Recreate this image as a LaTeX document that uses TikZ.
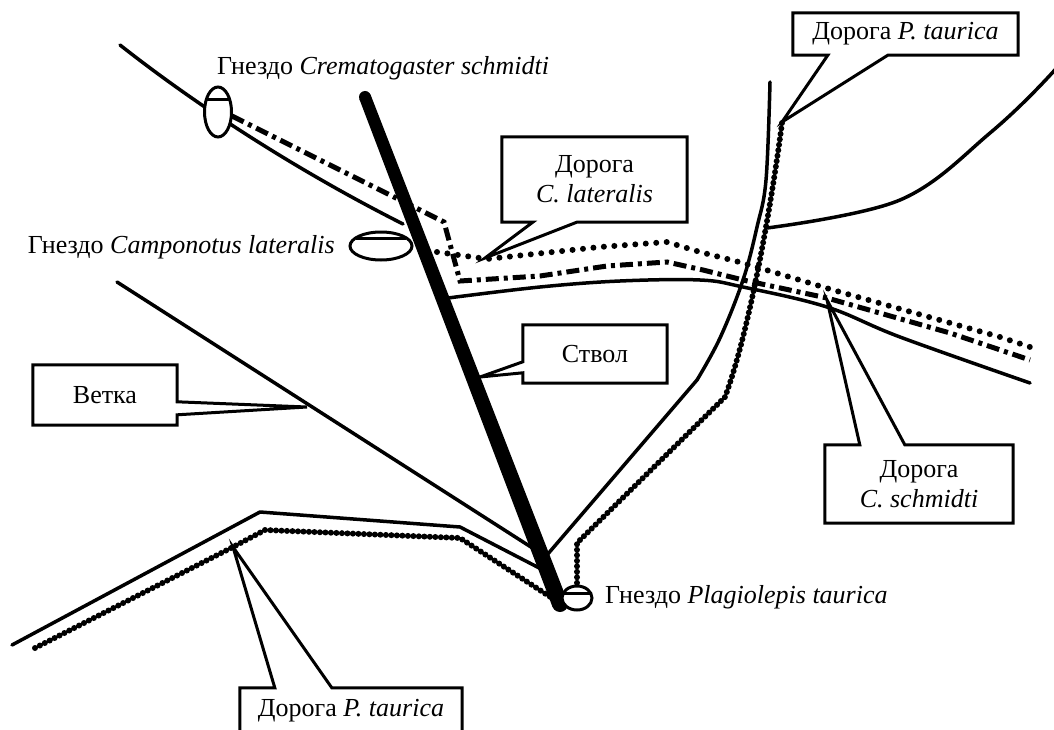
\documentclass[tikz,border=0pt]{standalone}
\usepackage{fontspec}
\setmainfont{Liberation Serif}
\usetikzlibrary{calc,shapes.geometric}
\pgfdeclarelayer{cb}
\pgfdeclarelayer{ct}
\pgfsetlayers{main,cb,ct}
\tikzset{
  branch/.style={line width=3.5pt, line cap=round, line join=round},
  schroad/.style={line width=5pt, dash pattern=on 13pt off 5pt on 4pt off 5pt},
  latroad/.style={line width=6pt, line cap=round, dash pattern=on 0pt off 10.5pt},
  taurroad/.style={line width=2pt, line join=round,
    postaction={draw, line width=6pt, line cap=round, dash pattern=on 0pt off 5.5pt}},
  nest/.style={ellipse, draw, line width=3pt, fill=white, inner sep=0pt},
  callout/.style={draw, line width=3pt, fill=white, line join=miter},
  lbl/.style={font=\fontsize{26}{30}\selectfont, inner sep=0pt},
  boxn/.style={lbl, align=center},
}
\begin{document}
\begin{tikzpicture}[x=1pt,y=-1pt]
\useasboundingbox (0,0) rectangle (1054,730);
\clip (0,0) rectangle (1054,730);
\fill[white] (0,0) rectangle (1054,730);

% branches
\draw[branch] (120,45) .. controls (200,108) and (300,172) .. (403,224);
\draw[branch] (117,282) -- (545,556);
\draw[branch] (12,645) -- (260,512) -- (460,527) -- (547,572);
\draw[branch] plot[smooth, tension=0.6] coordinates {(448,298) (540,287) (620,281) (700,280) (743,287) (827,307) (900,337) (1030,383)};
\draw[branch] (547,555) -- (697,380);
\draw[branch] plot[smooth, tension=0.6] coordinates {(697,380) (720,338) (743,280) (757,227) (766,180) (770,82)};
\draw[branch] plot[smooth, tension=0.6] coordinates {(767,228) (900,200) (990,133) (1053,72) (1075,40)};

% roads
\draw[schroad] (232,116) -- (444,222) -- (460,281) -- (540,276) -- (607,266) -- (667,262) -- (703,270) -- (743,280) -- (827,298) -- (950,333) -- (1030,360);
\draw[latroad] (437,252) -- (487,259) -- (600,247) -- (667,242) -- (700,252) -- (743,263) -- (833,290) -- (1000,337) -- (1030,347);
\draw[taurroad] (782,123) .. controls (772,200) and (750,330) .. (725,397) -- (577,543) -- (577,585);
\draw[taurroad] (35,648) -- (233,547) -- (265,530) -- (460,538) -- (555,600);

% trunk (tapering)
\fill (359.4,99.2) -- (370.6,94.8) -- (567.5,601.1) -- (552.5,606.9) -- cycle;
\fill (365,97) circle (6);
\fill (560,604) circle (8);

% nests
\node[nest, minimum width=27pt, minimum height=50pt] (ncr) at (218,112) {};
\draw[line width=3pt] ($(ncr.center)+(-11.4,-12)$) -- ++(22.8,0);
\node[nest, minimum width=62pt, minimum height=28pt] (nca) at (381,246) {};
\draw[line width=3pt] ($(nca.center)+(-25.4,-8)$) -- ++(50.8,0);
\node[nest, minimum width=30pt, minimum height=24pt] (npl) at (577,598) {};
\draw[line width=3pt] ($(npl.center)+(-13.6,-5)$) -- ++(27.2,0);

\node[lbl, anchor=base west] (lcr) at (217,75) {Гнездо \textit{Crematogaster schmidti}};
\node[lbl, anchor=base east] (lca) at (335,253) {Гнездо \textit{Camponotus lateralis}};
\node[lbl, anchor=base west] (lpl) at (605,603) {Гнездо \textit{Plagiolepis taurica}};

% callout tips
\coordinate (ta) at (782,122);
\coordinate (tb) at (485,258);
\coordinate (tc) at (480,377);
\coordinate (td) at (307,407);
\coordinate (te) at (827,300);
\coordinate (tf) at (233,547);

\begin{pgfonlayer}{ct}
\node[boxn, minimum width=225pt, minimum height=42pt] (pa) at (905.5,34) {Дорога \textit{P. taurica}};
\node[boxn, minimum width=185pt, minimum height=85pt] (pb) at (594.5,179.5) {Дорога\\\textit{C. lateralis}};
\node[boxn, minimum width=144pt, minimum height=58pt] (pc) at (595,354) {Ствол};
\node[boxn, minimum width=144pt, minimum height=60pt] (pd) at (105,395) {Ветка};
\node[boxn, minimum width=188pt, minimum height=78pt] (pe) at (919,484) {Дорога\\\textit{C. schmidti}};
\node[boxn, minimum width=222pt, minimum height=46pt] (pf) at (351,711) {Дорога \textit{P. taurica}};
\end{pgfonlayer}

\begin{pgfonlayer}{cb}
\draw[callout] (pa.north west) -- (pa.north east) -- (pa.south east) -- ($(pa.south west)+(95,0)$) -- (ta) -- ($(pa.south west)+(35,0)$) -- (pa.south west) -- cycle;
\draw[callout] (pb.north west) -- (pb.north east) -- (pb.south east) -- ($(pb.south west)+(75,0)$) -- (tb) -- ($(pb.south west)+(31,0)$) -- (pb.south west) -- cycle;
\draw[callout] (pc.north west) -- (pc.north east) -- (pc.south east) -- (pc.south west) -- ($(pc.north west)+(0,48)$) -- (tc) -- ($(pc.north west)+(0,37)$) -- cycle;
\draw[callout] (pd.north west) -- (pd.north east) -- ($(pd.north east)+(0,37)$) -- (td) -- ($(pd.north east)+(0,50)$) -- (pd.south east) -- (pd.south west) -- cycle;
\draw[callout] (pe.north west) -- ($(pe.north west)+(35,0)$) -- (te) -- ($(pe.north west)+(80,0)$) -- (pe.north east) -- (pe.south east) -- (pe.south west) -- cycle;
\draw[callout] (pf.north west) -- ($(pf.north west)+(35,0)$) -- (tf) -- ($(pf.north west)+(92,0)$) -- (pf.north east) -- (pf.south east) -- (pf.south west) -- cycle;
\end{pgfonlayer}
\end{tikzpicture}
\end{document}
